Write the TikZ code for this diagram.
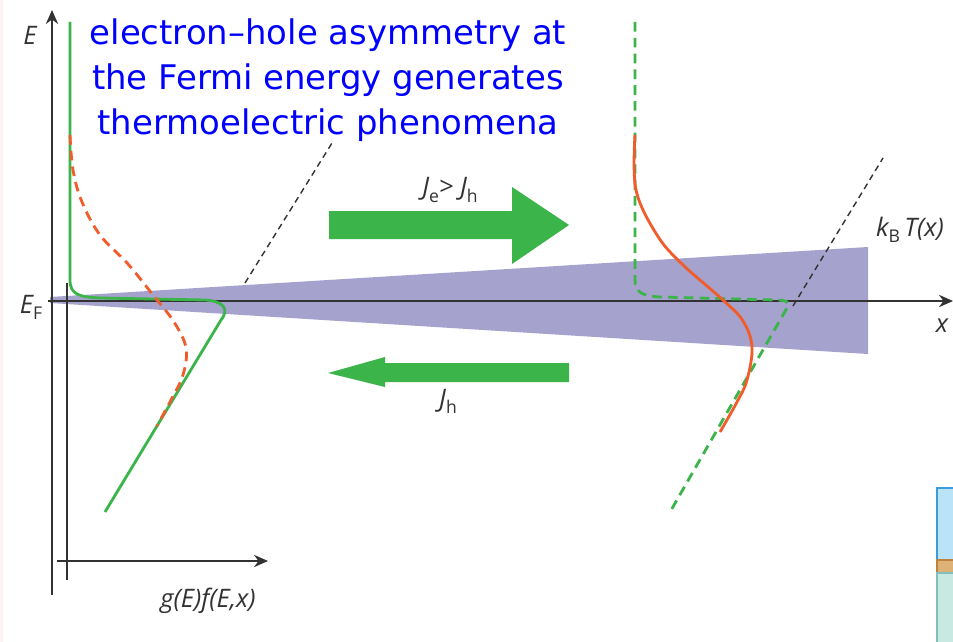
\documentclass[tikz,border=0pt]{standalone}
\usepackage{fontspec}
\usetikzlibrary{arrows.meta}
\newfontfamily\lblfont{Open Sans}
\newfontfamily\notefont{DejaVu Sans}
\definecolor{fgreen}{RGB}{59,180,74}
\definecolor{forange}{RGB}{240,92,42}
\definecolor{wedgecol}{RGB}{165,162,205}
\definecolor{lblgray}{RGB}{50,50,50}
\newcommand\lowidx[1]{\raisebox{-0.45ex}{\fontsize{10}{11}\selectfont\upshape #1}}

\begin{document}
\begin{tikzpicture}[x=0.02cm, y=-0.02cm,
  axis/.style={line width=0.8pt, lblgray, -{Stealth[length=8pt, width=7pt]}},
  plainaxis/.style={line width=0.7pt, lblgray},
  fline/.style={line width=1.6pt, fgreen, line join=round},
  fdash/.style={line width=1.6pt, fgreen, dash pattern=on 5.5pt off 3.5pt},
  oline/.style={line width=1.6pt, forange},
  odash/.style={line width=1.6pt, forange, dash pattern=on 5.5pt off 3.5pt},
  kline/.style={line width=0.8pt, lblgray, dash pattern=on 3.5pt off 2.5pt},
  lbl/.style={font=\lblfont\fontsize{14.5}{16}\selectfont\itshape, text=lblgray, inner sep=0pt},
  flow/.style={fill=fgreen, draw=none}]
\useasboundingbox (0,0) rectangle (953,642);
\fill[white] (0,0) rectangle (953,642);
\fill[red!5] (0,0) rectangle (3,642);

% temperature wedge
\fill[wedgecol] (50,297) -- (868,247) -- (868,354) -- (50,303) -- cycle;

% axes
\coordinate (Ebot) at (52,595);
\coordinate (Etop) at (52,10);
\coordinate (xleft) at (48,301);
\coordinate (xright) at (953,301);
\coordinate (gleft) at (57,561);
\coordinate (gright) at (268,561);
\draw[axis] (Ebot) -- (Etop);
\draw[axis] (xleft) -- (xright);
\draw[axis] (gleft) -- (gright);
\draw[plainaxis] (67,283) -- (67,580);

% k_B T lines
\draw[kline] (245,283) -- (332,143);
\draw[kline] (793,306) -- (883,158);

% left distributions
\draw[fline] (70,22) -- (70,280) .. controls (70,295) and (80,297) .. (100,298)
  -- (205,300) .. controls (223,301) and (230,309) .. (221,320) -- (105,512);
\draw[odash] plot[smooth, tension=0.6] coordinates {(70,135) (73,170) (82,202) (100,235)
  (128,264) (153,295) (174,322) (186,348) (183,375) (171,400) (157,426)};

% right distributions
\draw[fdash] (635,22) -- (635,280) .. controls (635,292) and (642,296) .. (660,297)
  -- (775,300) .. controls (786,300) and (791,302) .. (787,308) -- (670,512);
\draw[oline] plot[smooth, tension=0.6] coordinates {(635,135) (636,190) (657,235)
  (682,264) (723,300) (743,321) (752,347) (747,380) (737,402) (720,432)};

% currents
\fill[flow] (329,211) -- (512,211) -- (512,187) -- (569,225) -- (512,264)
  -- (512,239) -- (329,239) -- cycle;
\fill[flow] (328,373) -- (385,357) -- (385,363) -- (569,363) -- (569,382)
  -- (385,382) -- (385,387) -- cycle;

% labels
\node[lbl] (Elbl) at (30,35) {E};
\node[lbl] (EFlbl) at (31,307) {E\lowidx{F}};
\node[lbl] (xlbl) at (942,326) {x};
\node[lbl] (kTlbl) at (910,230) {k\lowidx{B}\,T(x)};
\node[lbl] (glbl) at (208,601) {g(E)f(E,x)};
\node[lbl] (Jelbl) at (450,190) {J\lowidx{e}> J\lowidx{h}};
\node[lbl] (Jhlbl) at (448,401) {J\lowidx{h}};

% note
\node[font=\notefont\fontsize{19.3}{25.5}\selectfont, text=blue, align=center, inner sep=0pt]
  (note) at (328,80) {electron–hole asymmetry at\\the Fermi energy generates\\thermoelectric phenomena};

% neighbouring slide element
\filldraw[fill={rgb,255:red,187;green,227;blue,247}, draw={rgb,255:red,60;green,155;blue,220}, line width=1pt]
  (937,488) rectangle (965,560);
\filldraw[fill={rgb,255:red,222;green,178;blue,118}, draw={rgb,255:red,190;green,130;blue,60}, line width=1pt]
  (937,560) rectangle (965,573);
\filldraw[fill={rgb,255:red,200;green,232;blue,226}, draw={rgb,255:red,130;green,190;blue,190}, line width=1pt]
  (937,573) rectangle (965,650);
\end{tikzpicture}
\end{document}
